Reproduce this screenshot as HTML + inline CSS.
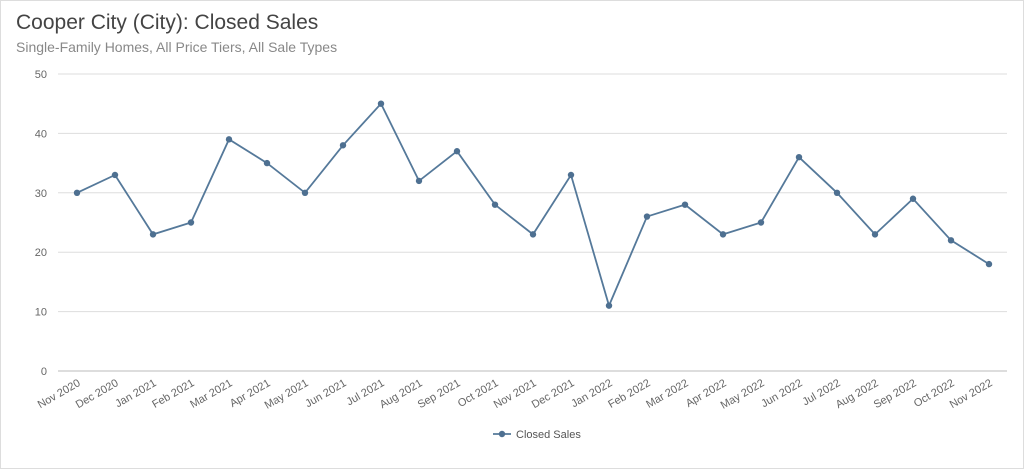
<!DOCTYPE html>
<html><head><meta charset="utf-8"><style>
body{margin:0;background:#fff;font-family:"Liberation Sans",sans-serif;}
#wrap{position:relative;width:1022px;height:467px;border:1px solid #ddd;overflow:hidden}
#t{position:absolute;left:15px;top:10px;font-size:21px;color:#444}
#s{position:absolute;left:15px;top:38px;font-size:14px;color:#888}
</style></head><body>
<div id="wrap">
<div id="t">Cooper City (City): Closed Sales</div>
<div id="s">Single-Family Homes, All Price Tiers, All Sale Types</div>
<svg id="c" width="1022" height="467" style="position:absolute;left:0;top:0"></svg>
</div>
<script>
const categories=["Nov 2020","Dec 2020","Jan 2021","Feb 2021","Mar 2021","Apr 2021","May 2021","Jun 2021","Jul 2021","Aug 2021","Sep 2021","Oct 2021","Nov 2021","Dec 2021","Jan 2022","Feb 2022","Mar 2022","Apr 2022","May 2022","Jun 2022","Jul 2022","Aug 2022","Sep 2022","Oct 2022","Nov 2022"];
const closedSales=[30,33,23,25,39,35,30,38,45,32,37,28,23,33,11,26,28,23,25,36,30,23,29,22,18];
const yTicks=[0,10,20,30,40,50];
const NS="http://www.w3.org/2000/svg",svg=document.getElementById('c');
const x0=76,x1=988,yb=370,yt=73,ymax=50,left=57,right=1006;
const xs=i=>x0+(x1-x0)*i/(categories.length-1);
const ys=v=>yb-(yb-yt)*v/ymax;
function mk(t,a){const e=document.createElementNS(NS,t);for(const k in a)e.setAttribute(k,a[k]);svg.appendChild(e);return e;}
yTicks.forEach(v=>{
 const g=mk('line',{x1:left,x2:right,y1:ys(v),y2:ys(v),stroke:v===0?'#bbb':'#ddd','stroke-width':1});
 
 
 const t=mk('text',{x:46,y:ys(v)+4,'text-anchor':'end','font-size':11,fill:'#666'});t.textContent=v;
 
 
});
categories.forEach((c,i)=>{
 const t=mk('text',{x:xs(i)+4,y:yb+14,'text-anchor':'end','font-size':11,fill:'#666',transform:`rotate(-30 ${xs(i)+4} ${yb+14})`});t.textContent=c;
 
 
});
const p=mk('polyline',{points:closedSales.map((v,i)=>xs(i)+','+ys(v)).join(' '),fill:'none',stroke:'#55799a','stroke-width':1.8});


closedSales.forEach((v,i)=>{
 const c=mk('circle',{cx:xs(i),cy:ys(v),r:3.2,fill:'#4e7091'});
 
 
});
const ll=mk('line',{x1:492,x2:510,y1:433,y2:433,stroke:'#55799a','stroke-width':1.8});


const lc=mk('circle',{cx:501,cy:433,r:3.2,fill:'#4e7091'});


const lt=mk('text',{x:515,y:437,'font-size':11,fill:'#555'});lt.textContent='Closed Sales';


</script>
</body></html>
